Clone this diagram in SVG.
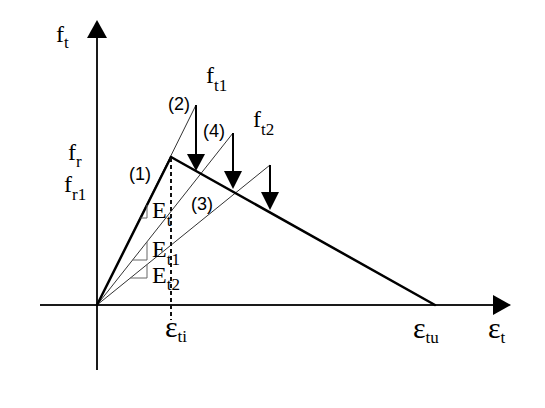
<svg xmlns="http://www.w3.org/2000/svg" width="545" height="408" viewBox="0 0 545 408">
<style>
.ax{stroke:#1a1a1a;stroke-width:2;fill:none}
.thick{stroke:#000;stroke-width:2.5;fill:none;stroke-linecap:round}
.thin{stroke:#333;stroke-width:1;fill:none}
.mk{stroke:#666;stroke-width:1;fill:none}
.dash{stroke:#111;stroke-width:2;stroke-dasharray:4 3;fill:none}
.arr{stroke:#000;stroke-width:2;fill:none}
.head{fill:#000}
.m{font-family:"Liberation Serif","Times New Roman",serif;font-size:24px;fill:#000}
.e{font-size:30px}
.s{font-size:17px}
.n{font-family:"Liberation Sans",Arial,sans-serif;font-size:18px;fill:#000}
</style>
<rect width="545" height="408" fill="#fff"/>
<g id="axes">
<line class="ax" x1="97" y1="370" x2="97" y2="36"/>
<polygon class="head" points="97,20 87,38 107,38"/>
<line class="ax" x1="40" y1="305" x2="495" y2="305"/>
<polygon class="head" points="511,305 493,295 493,315"/>
</g>
<g id="connectors">
<line class="thin" x1="97" y1="305" x2="196" y2="105"/>
<line class="thin" x1="97" y1="305" x2="233" y2="133"/>
<line class="thin" x1="97" y1="305" x2="270" y2="165"/>
<line class="thick" x1="97" y1="305" x2="171" y2="157"/>
<line class="thick" x1="171" y1="157" x2="435" y2="305"/>
<line class="dash" x1="171" y1="158" x2="171" y2="320"/>
<line class="arr" x1="196" y1="105" x2="196" y2="156"/>
<polygon class="head" points="196,171 187,154 205,154"/>
<line class="arr" x1="233" y1="133" x2="233" y2="173"/>
<polygon class="head" points="233,189 224,171 242,171"/>
<line class="arr" x1="270" y1="165" x2="270" y2="194"/>
<polygon class="head" points="270,210 261,192 279,192"/>
<polyline class="mk" points="147,205 147,218 140.5,218"/>
<polyline class="mk" points="147,242 147,260 132.6,260"/>
<polyline class="mk" points="147,264.5 147,278 130.3,278"/>
</g>
<g id="labels">
<text class="m" x="56" y="42">f<tspan class="s" dy="6">t</tspan></text>
<text class="m" x="68" y="160">f<tspan class="s" dy="7">r</tspan></text>
<text class="m" x="64" y="192">f<tspan class="s" dy="8">r1</tspan></text>
<text class="m" x="206" y="83">f<tspan class="s" dy="8">t1</tspan></text>
<text class="m" x="253" y="127">f<tspan class="s" dy="8">t2</tspan></text>
<text class="m" x="152" y="218">E<tspan class="s" dy="8">t</tspan></text>
<text class="m" x="152" y="257">E<tspan class="s" dy="8">t1</tspan></text>
<text class="m" x="152" y="283">E<tspan class="s" dy="7">t2</tspan></text>
<text class="m" x="165" y="337"><tspan class="e">ε</tspan><tspan class="s" dy="5">ti</tspan></text>
<text class="m" x="413" y="338"><tspan class="e">ε</tspan><tspan class="s" dy="5">tu</tspan></text>
<text class="m" x="488" y="338"><tspan class="e">ε</tspan><tspan class="s" dy="5">t</tspan></text>
<text class="n" x="129" y="180">(1)</text>
<text class="n" x="168" y="110">(2)</text>
<text class="n" x="203" y="137">(4)</text>
<text class="n" x="191" y="210">(3)</text>
</g>
</svg>
